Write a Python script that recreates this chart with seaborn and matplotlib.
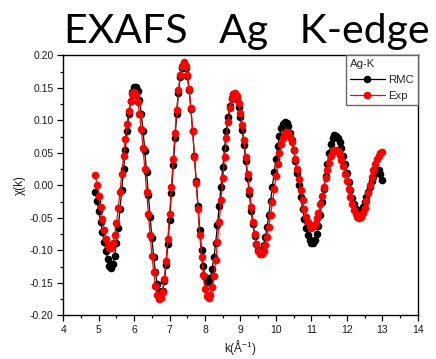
import matplotlib
matplotlib.use("Agg")
import matplotlib.pyplot as plt
from matplotlib.ticker import MultipleLocator, FormatStrFormatter
import pandas as pd
import seaborn as sns

# photoelectron wavenumber grid, k (1/Angstrom)
k_values = [
    4.90, 4.95, 5.00, 5.05, 5.10, 5.15, 5.20, 5.25, 5.30, 5.35,
    5.40, 5.45, 5.50, 5.55, 5.60, 5.65, 5.70, 5.75, 5.80, 5.85,
    5.90, 5.95, 6.00, 6.05, 6.10, 6.15, 6.20, 6.25, 6.30, 6.35,
    6.40, 6.45, 6.50, 6.55, 6.60, 6.65, 6.70, 6.75, 6.80, 6.85,
    6.90, 6.95, 7.00, 7.05, 7.10, 7.15, 7.20, 7.25, 7.30, 7.35,
    7.40, 7.45, 7.50, 7.55, 7.60, 7.65, 7.70, 7.75, 7.80, 7.85,
    7.90, 7.95, 8.00, 8.05, 8.10, 8.15, 8.20, 8.25, 8.30, 8.35,
    8.40, 8.45, 8.50, 8.55, 8.60, 8.65, 8.70, 8.75, 8.80, 8.85,
    8.90, 8.95, 9.00, 9.05, 9.10, 9.15, 9.20, 9.25, 9.30, 9.35,
    9.40, 9.45, 9.50, 9.55, 9.60, 9.65, 9.70, 9.75, 9.80, 9.85,
    9.90, 9.95, 10.00, 10.05, 10.10, 10.15, 10.20, 10.25, 10.30, 10.35,
    10.40, 10.45, 10.50, 10.55, 10.60, 10.65, 10.70, 10.75, 10.80, 10.85,
    10.90, 10.95, 11.00, 11.05, 11.10, 11.15, 11.20, 11.25, 11.30, 11.35,
    11.40, 11.45, 11.50, 11.55, 11.60, 11.65, 11.70, 11.75, 11.80, 11.85,
    11.90, 11.95, 12.00, 12.05, 12.10, 12.15, 12.20, 12.25, 12.30, 12.35,
    12.40, 12.45, 12.50, 12.55, 12.60, 12.65, 12.70, 12.75, 12.80, 12.85,
    12.90, 12.95, 13.00,
]

# chi(k) from the reverse Monte Carlo model
chi_rmc = [
    -0.010, -0.024, -0.040, -0.056, -0.072, -0.087, -0.101, -0.114, -0.124, -0.127,
    -0.121, -0.108, -0.089, -0.065, -0.037, -0.007, 0.025, 0.055, 0.084, 0.109,
    0.129, 0.143, 0.151, 0.151, 0.145, 0.131, 0.110, 0.084, 0.053, 0.020,
    -0.015, -0.049, -0.081, -0.110, -0.134, -0.152, -0.163, -0.167, -0.162, -0.147,
    -0.123, -0.091, -0.053, -0.012, 0.031, 0.072, 0.110, 0.142, 0.166, 0.181,
    0.186, 0.181, 0.168, 0.146, 0.117, 0.083, 0.045, 0.006, -0.032, -0.068,
    -0.099, -0.124, -0.141, -0.149, -0.149, -0.142, -0.129, -0.111, -0.088, -0.061,
    -0.032, -0.002, 0.028, 0.057, 0.083, 0.105, 0.122, 0.134, 0.140, 0.139,
    0.133, 0.121, 0.105, 0.085, 0.062, 0.037, 0.011, -0.014, -0.039, -0.060,
    -0.078, -0.091, -0.099, -0.102, -0.099, -0.092, -0.080, -0.064, -0.045, -0.024,
    -0.002, 0.020, 0.041, 0.060, 0.076, 0.088, 0.095, 0.098, 0.096, 0.091,
    0.081, 0.069, 0.054, 0.038, 0.019, 0.001, -0.018, -0.036, -0.052, -0.066,
    -0.076, -0.084, -0.088, -0.089, -0.084, -0.075, -0.062, -0.045, -0.026, -0.006,
    0.014, 0.033, 0.050, 0.063, 0.072, 0.077, 0.076, 0.073, 0.066, 0.057,
    0.045, 0.032, 0.019, 0.005, -0.008, -0.020, -0.029, -0.036, -0.039, -0.040,
    -0.038, -0.033, -0.026, -0.018, -0.010, -0.002, 0.006, 0.013, 0.019, 0.023,
    0.023, 0.017, 0.008,
]

# measured chi(k)
chi_exp = [
    0.016, 0.001, -0.016, -0.034, -0.052, -0.068, -0.082, -0.092, -0.097, -0.096,
    -0.089, -0.076, -0.058, -0.035, -0.010, 0.018, 0.045, 0.071, 0.095, 0.115,
    0.130, 0.140, 0.143, 0.139, 0.128, 0.110, 0.086, 0.057, 0.025, -0.010,
    -0.044, -0.077, -0.108, -0.134, -0.155, -0.169, -0.175, -0.174, -0.164, -0.144,
    -0.116, -0.082, -0.044, -0.002, 0.040, 0.080, 0.116, 0.147, 0.170, 0.184,
    0.189, 0.184, 0.170, 0.148, 0.119, 0.084, 0.044, 0.004, -0.037, -0.076,
    -0.110, -0.138, -0.159, -0.171, -0.174, -0.169, -0.157, -0.139, -0.115, -0.087,
    -0.056, -0.023, 0.011, 0.043, 0.072, 0.098, 0.119, 0.133, 0.141, 0.142,
    0.137, 0.126, 0.111, 0.092, 0.069, 0.044, 0.018, -0.008, -0.033, -0.056,
    -0.075, -0.090, -0.101, -0.105, -0.105, -0.101, -0.092, -0.079, -0.064, -0.046,
    -0.026, -0.006, 0.014, 0.033, 0.049, 0.063, 0.073, 0.080, 0.082, 0.080,
    0.075, 0.066, 0.054, 0.040, 0.025, 0.009, -0.008, -0.023, -0.037, -0.049,
    -0.057, -0.063, -0.065, -0.063, -0.059, -0.051, -0.042, -0.029, -0.016, -0.002,
    0.011, 0.024, 0.035, 0.045, 0.051, 0.054, 0.055, 0.052, 0.047, 0.039,
    0.029, 0.018, 0.006, -0.006, -0.018, -0.029, -0.038, -0.044, -0.049, -0.050,
    -0.048, -0.043, -0.035, -0.024, -0.012, 0.000, 0.012, 0.023, 0.032, 0.040,
    0.045, 0.049, 0.051,
]

series_names = ["RMC", "Exp"]
series_colors = {"RMC": "black", "Exp": "red"}

df = pd.concat([
    pd.DataFrame({"k": k_values, "chi": chi_rmc, "series": "RMC"}),
    pd.DataFrame({"k": k_values, "chi": chi_exp, "series": "Exp"}),
], ignore_index=True)

sns.set_theme(style="ticks")
plt.rcParams["font.family"] = ["Liberation Sans", "DejaVu Sans"]
plt.rcParams["mathtext.fontset"] = "custom"
plt.rcParams["mathtext.rm"] = "Liberation Sans"
plt.rcParams["mathtext.it"] = "Liberation Sans"
plt.rcParams["axes.unicode_minus"] = False

fig = plt.figure(figsize=(4.36, 3.59), dpi=100)
ax = fig.add_axes([0.1452, 0.1217, 0.8128, 0.7243])

sns.lineplot(
    data=df, x="k", y="chi", hue="series", hue_order=series_names,
    palette=series_colors, marker="o", markersize=5.5, markeredgewidth=0,
    linewidth=0.9, errorbar=None, sort=False, ax=ax,
)

ax.set_xlim(4, 14)
ax.set_ylim(-0.20, 0.20)
ax.xaxis.set_major_locator(MultipleLocator(1))
ax.xaxis.set_minor_locator(MultipleLocator(0.5))
ax.yaxis.set_major_locator(MultipleLocator(0.05))
ax.yaxis.set_minor_locator(MultipleLocator(0.025))
ax.yaxis.set_major_formatter(FormatStrFormatter("%.2f"))

for side in ["left", "right", "top", "bottom"]:
    ax.spines[side].set_visible(True)
    ax.spines[side].set_linewidth(1.0)
    ax.spines[side].set_color("black")

ax.tick_params(axis="both", which="major", direction="out", length=4.5,
               width=0.9, color="black", labelsize=7.5, labelcolor="#1a1a1a",
               pad=2.5, top=False, right=False)
ax.tick_params(axis="both", which="minor", direction="out", length=2.5,
               width=0.9, color="black", top=False, right=False)

ax.set_xlabel("k(Å$^{\\mathregular{-1}}$)", fontsize=8.5, labelpad=2, color="#1a1a1a")
ax.set_ylabel("χ(k)", fontsize=8.5, labelpad=3, color="#1a1a1a")

leg = ax.legend(
    title="Ag-K", loc="upper right", bbox_to_anchor=(1.0, 1.0),
    borderaxespad=0, frameon=True, fancybox=False, fontsize=8.2,
    title_fontsize=8.2, handlelength=3.0, handletextpad=0.3,
    labelspacing=0.5, borderpad=0.35, markerscale=1.0,
)
leg._legend_box.align = "left"
leg.get_frame().set_edgecolor("#666666")
leg.get_frame().set_linewidth(1.0)
leg.get_frame().set_alpha(1)

fig.text(0.565, 0.881, "EXAFS   Ag   K-edge", ha="center", va="baseline",
         fontsize=29.5, family=["Lato", "DejaVu Sans"], color="black")

fig.savefig("out.png", dpi=100)
